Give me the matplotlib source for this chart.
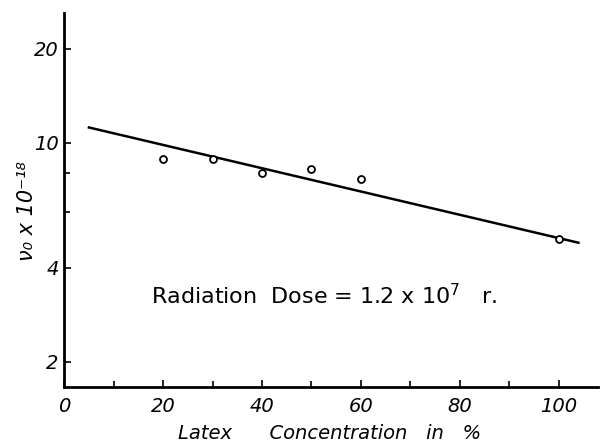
import matplotlib.pyplot as plt
from matplotlib.ticker import FixedLocator, NullFormatter

# measured points
conc = [20, 30, 40, 50, 60, 100]
nu0 = [8.9, 8.85, 8.0, 8.25, 7.65, 4.95]

# fitted straight line (on log scale)
line_x = [5, 104]
line_y = [11.2, 4.8]

y_major = [2, 4, 10, 20]
y_minor = [6, 8]
x_labels = [0, 20, 40, 60, 80, 100]
x_minor = [10, 30, 50, 70, 90]

fig = plt.figure(figsize=[6, 4.45], dpi=100)
ax = fig.add_axes([0.107, 0.130, 0.89, 0.841])

ax.set_yscale('log')
ax.plot(line_x, line_y, color='k', lw=1.8)
ax.plot(conc, nu0, 'o', markersize=5, markerfacecolor='white',
        markeredgecolor='k', markeredgewidth=1.3)

ax.set_xlim(0, 108)
ax.set_ylim(1.66, 26)

# axes look like a hand-drawn plot: only left and bottom lines
for side in ['top', 'right']:
    ax.spines[side].set_visible(False)
for side in ['left', 'bottom']:
    ax.spines[side].set_linewidth(2)

ax.yaxis.set_major_locator(FixedLocator(y_major))
ax.yaxis.set_minor_locator(FixedLocator(y_minor))
ax.yaxis.set_minor_formatter(NullFormatter())
ax.set_yticklabels([str(v) for v in y_major])

ax.xaxis.set_major_locator(FixedLocator(x_labels))
ax.xaxis.set_minor_locator(FixedLocator(x_minor))
ax.set_xticklabels([str(v) for v in x_labels])

ax.tick_params(axis='both', which='both', direction='in', width=1.2,
               labelsize=14, pad=4)
ax.tick_params(axis='both', which='major', length=5)
ax.tick_params(axis='both', which='minor', length=4)
ax.tick_params(axis='x', pad=7)
for lbl in ax.get_xticklabels() + ax.get_yticklabels():
    lbl.set_fontstyle('italic')

# axis titles placed by hand to keep them close like the original
fig.text(0.045, 0.525, 'ν₀ x 10⁻¹⁸', rotation=90, fontsize=15,
         fontstyle='italic', ha='center', va='center')
fig.text(0.55, 0.026, 'Latex      Concentration   in   %', fontsize=14,
         fontstyle='italic', ha='center', va='center')

ax.text(52.5, 3.25, 'Radiation  Dose = 1.2 x 10$^7$   r.', fontsize=16,
        ha='center', va='center')

fig.savefig('out.png', dpi=100)
